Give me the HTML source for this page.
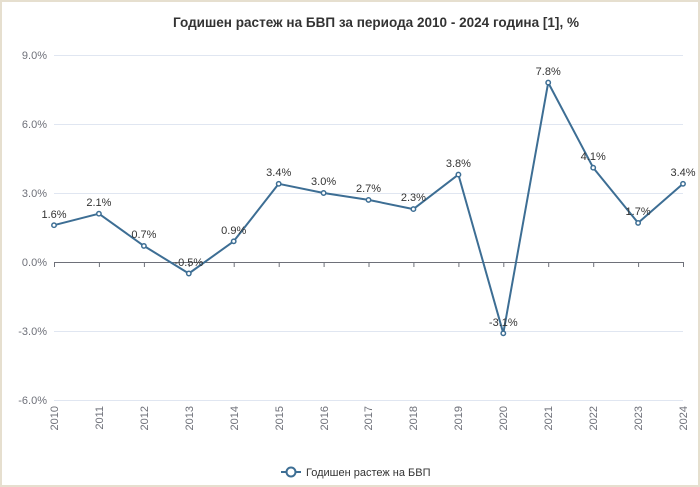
<!DOCTYPE html>
<html><head><meta charset="utf-8"><style>
html,body{margin:0;padding:0;background:#fff}
svg{display:block;font-family:"Liberation Sans","DejaVu Sans",sans-serif}
</style></head><body>
<svg width="700" height="487" viewBox="0 0 700 487">
<rect x="1" y="1" width="698" height="485" fill="#fff" stroke="#e6dfcf" stroke-width="2"/>
<text x="376" y="27" text-anchor="middle" font-size="13.5" font-weight="bold" fill="#333" textLength="406" lengthAdjust="spacingAndGlyphs">Годишен растеж на БВП за периода 2010 - 2024 година [1], %</text>
<g stroke="#e0e6f1" stroke-width="1">
<line x1="54" x2="683" y1="55.5" y2="55.5"/>
<line x1="54" x2="683" y1="124.5" y2="124.5"/>
<line x1="54" x2="683" y1="193.5" y2="193.5"/>
<line x1="54" x2="683" y1="331.5" y2="331.5"/>
<line x1="54" x2="683" y1="400.5" y2="400.5"/>
</g>
<line x1="54" x2="683" y1="262.5" y2="262.5" stroke="#6e7079"/>
<g stroke="#6e7079">
<line x1="54.5" x2="54.5" y1="262" y2="267"/><line x1="99.4" x2="99.4" y1="262" y2="267"/><line x1="144.4" x2="144.4" y1="262" y2="267"/><line x1="189.3" x2="189.3" y1="262" y2="267"/><line x1="234.2" x2="234.2" y1="262" y2="267"/><line x1="279.2" x2="279.2" y1="262" y2="267"/><line x1="324.1" x2="324.1" y1="262" y2="267"/><line x1="369" x2="369" y1="262" y2="267"/><line x1="413.9" x2="413.9" y1="262" y2="267"/><line x1="458.9" x2="458.9" y1="262" y2="267"/><line x1="503.8" x2="503.8" y1="262" y2="267"/><line x1="548.7" x2="548.7" y1="262" y2="267"/><line x1="593.7" x2="593.7" y1="262" y2="267"/><line x1="638.6" x2="638.6" y1="262" y2="267"/><line x1="683.5" x2="683.5" y1="262" y2="267"/>
</g>
<g font-size="11" fill="#6e7079" text-anchor="end">
<text x="47" y="59">9.0%</text><text x="47" y="128">6.0%</text><text x="47" y="197">3.0%</text><text x="47" y="266">0.0%</text><text x="47" y="335">-3.0%</text><text x="47" y="404">-6.0%</text>
</g>
<g font-size="11" fill="#6e7079" text-anchor="end">
<text transform="translate(58,406) rotate(-90)">2010</text>
<text transform="translate(103,406) rotate(-90)">2011</text>
<text transform="translate(148,406) rotate(-90)">2012</text>
<text transform="translate(193,406) rotate(-90)">2013</text>
<text transform="translate(238,406) rotate(-90)">2014</text>
<text transform="translate(283,406) rotate(-90)">2015</text>
<text transform="translate(328,406) rotate(-90)">2016</text>
<text transform="translate(372,406) rotate(-90)">2017</text>
<text transform="translate(417,406) rotate(-90)">2018</text>
<text transform="translate(462,406) rotate(-90)">2019</text>
<text transform="translate(507,406) rotate(-90)">2020</text>
<text transform="translate(552,406) rotate(-90)">2021</text>
<text transform="translate(597,406) rotate(-90)">2022</text>
<text transform="translate(642,406) rotate(-90)">2023</text>
<text transform="translate(687,406) rotate(-90)">2024</text>
</g>
<polyline fill="none" stroke="#3d6e94" stroke-width="2" stroke-linejoin="round" points="54,225.2 98.9,213.7 143.9,245.9 188.8,273.5 233.7,241.3 278.7,183.8 323.6,193 368.5,199.9 413.4,209.1 458.4,174.6 503.3,333.3 548.2,82.6 593.2,167.7 638.1,222.9 683,183.8"/>
<g fill="#fff" stroke="#3d6e94" stroke-width="1.5">
<circle cx="54" cy="225.2" r="2.2"/><circle cx="98.9" cy="213.7" r="2.2"/><circle cx="143.9" cy="245.9" r="2.2"/><circle cx="188.8" cy="273.5" r="2.2"/><circle cx="233.7" cy="241.3" r="2.2"/><circle cx="278.7" cy="183.8" r="2.2"/><circle cx="323.6" cy="193" r="2.2"/><circle cx="368.5" cy="199.9" r="2.2"/><circle cx="413.4" cy="209.1" r="2.2"/><circle cx="458.4" cy="174.6" r="2.2"/><circle cx="503.3" cy="333.3" r="2.2"/><circle cx="548.2" cy="82.6" r="2.2"/><circle cx="593.2" cy="167.7" r="2.2"/><circle cx="638.1" cy="222.9" r="2.2"/><circle cx="683" cy="183.8" r="2.2"/>
</g>
<g font-size="11" fill="#333" text-anchor="middle">
<text x="54" y="218">1.6%</text><text x="98.9" y="206">2.1%</text><text x="143.9" y="238">0.7%</text><text x="188.8" y="266">-0.5%</text><text x="233.7" y="234">0.9%</text><text x="278.7" y="176">3.4%</text><text x="323.6" y="185">3.0%</text><text x="368.5" y="192">2.7%</text><text x="413.4" y="201">2.3%</text><text x="458.4" y="167">3.8%</text><text x="503.3" y="326">-3.1%</text><text x="548.2" y="75">7.8%</text><text x="593.2" y="160">4.1%</text><text x="638.1" y="215">1.7%</text><text x="683" y="176">3.4%</text>
</g>
<line x1="281" x2="301" y1="472" y2="472" stroke="#3d6e94" stroke-width="2"/>
<circle cx="291" cy="472" r="4.5" fill="#fff" stroke="#3d6e94" stroke-width="2"/>
<text x="306" y="476" font-size="11" fill="#333">Годишен растеж на БВП</text>
</svg>
</body></html>
